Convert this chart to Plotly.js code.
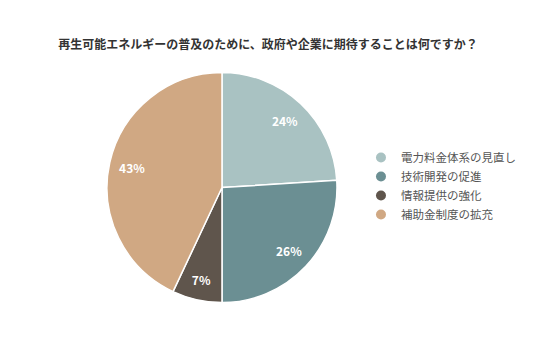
<!DOCTYPE html>
<html><head><meta charset="utf-8">
<script src="https://cdn.plot.ly/plotly-3.0.1.min.js"></script>
<style>html,body{margin:0;padding:0;background:#fff;}</style>
</head><body>
<div id="chart" style="width:536px;height:357px;"></div>
<script>
const labels = ["電力料金体系の見直し", "技術開発の促進", "情報提供の強化", "補助金制度の拡充"];
const values = [24, 26, 7, 43];
const colors = ["#a9c2c2", "#6b8f93", "#5f554c", "#d0a883"];
const title = "再生可能エネルギーの普及のために、政府や企業に期待することは何ですか？";

const font = "'Noto Sans CJK JP', 'Noto Sans', sans-serif";
const domain = {x: [0.1996, 0.6287], y: [0.1513, 0.798]};

// base pie: the coloured slices
const pie = {
  type: "pie",
  labels: labels,
  values: values,
  sort: false,
  direction: "clockwise",
  rotation: 0,
  marker: {colors: colors, line: {color: "#ffffff", width: 1.5}},
  textinfo: "none",
  showlegend: false,
  hoverinfo: "label+percent",
  domain: domain
};

// transparent ring on top, only to place the percent labels further out
const labelRing = {
  type: "pie",
  labels: labels,
  values: values,
  sort: false,
  direction: "clockwise",
  rotation: 0,
  hole: 0.6,
  marker: {colors: labels.map(() => "rgba(0,0,0,0)"), line: {width: 0}},
  texttemplate: "%{percent:.0%}",
  textposition: "inside",
  insidetextorientation: "horizontal",
  textfont: {color: "#ffffff", size: 12, family: font, weight: "bold"},
  showlegend: false,
  hoverinfo: "skip",
  domain: domain
};

const legendTraces = labels.map((l, i) => ({
  type: "scatter",
  mode: "markers",
  x: [null], y: [null],
  name: l,
  marker: {symbol: "circle", size: 10, color: colors[i]},
  showlegend: true,
  hoverinfo: "skip"
}));

const layout = {
  width: 536, height: 357,
  margin: {l: 0, r: 0, t: 0, b: 0},
  paper_bgcolor: "#ffffff",
  plot_bgcolor: "rgba(0,0,0,0)",
  title: {text: "<b>" + title + "</b>", x: 0.5, xanchor: "center", y: 1 - 45/357, yanchor: "middle",
          font: {family: font, size: 12, color: "#333333"}},
  xaxis: {visible: false},
  yaxis: {visible: false},
  showlegend: true,
  legend: {x: 0.6735, xanchor: "left", y: 1 - 143/357, yanchor: "top",
           font: {family: font, size: 11.5, color: "#555555"},
           itemwidth: 30, tracegroupgap: 0, bgcolor: "rgba(0,0,0,0)"}
};

Plotly.newPlot("chart", [pie, labelRing].concat(legendTraces), layout, {displayModeBar: false, staticPlot: true});
</script>
</body></html>
